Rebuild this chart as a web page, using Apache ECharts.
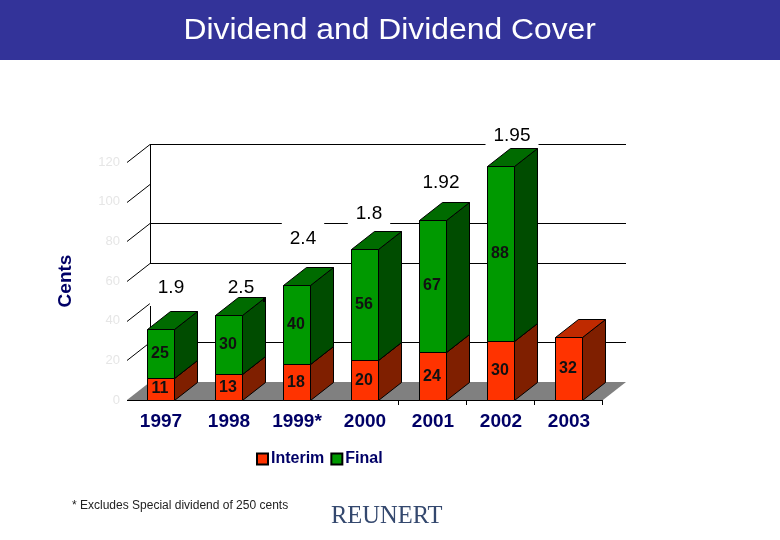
<!DOCTYPE html>
<html><head><meta charset="utf-8">
<style>html,body{margin:0;padding:0;background:#fff}#c{width:780px;height:540px}</style>
<script src="https://cdn.jsdelivr.net/npm/echarts@6/dist/echarts.min.js"></script>
</head><body><div id="c"></div>
<script>
var categories=['1997','1998','1999*','2000','2001','2002','2003'];
var interim=[11,13,18,20,24,30,32];
var finalDiv=[25,30,40,56,67,88,null];
var cover=['1.9','2.5','2.4','1.8','1.92','1.95',null];
var yTicks=[0,20,40,60,80,100,120];
var wallLines=[20,60,80,120];

// drawing style (not data)
var DX=23, DY=18, BAR=27;
var coverNudgeX=[10,12,6,4,8,11,0], coverLift=[41,27,46,36,37,30,0];
var lineStyle={stroke:'#000',lineWidth:1,fill:null};

function box(api,i,lo,hi,front,top,side){
  var p0=api.coord([i,lo]),p1=api.coord([i,hi]);
  var l=Math.floor(p0[0]-BAR/2)+.5,r=l+BAR,b=Math.round(p0[1])+.5,t=Math.round(p1[1])+.5;
  var bs={stroke:'#000',lineWidth:1};
  return [
   {type:'polygon',shape:{points:[[r,b],[r+DX,b-DY],[r+DX,t-DY],[r,t]]},style:Object.assign({fill:side},bs)},
   {type:'polygon',shape:{points:[[l,t],[l+DX,t-DY],[r+DX,t-DY],[r,t]]},style:Object.assign({fill:top},bs)},
   {type:'rect',shape:{x:l,y:t,width:BAR,height:b-t},style:Object.assign({fill:front},bs)}
  ];
}
function barLabel(api,i,lo,hi,v){
  var p=api.coord([i,(lo+hi)/2]);
  return {type:'text',z2:10,style:{x:p[0]-1,y:p[1],text:String(v),align:'center',verticalAlign:'middle',
    font:'bold 16px "Liberation Sans",Arial,sans-serif',fill:'#111'}};
}
function renderInterim(params,api){
  var i=params.dataIndex,v=interim[i];
  return {type:'group',children:box(api,i,0,v,'#FF3300','#BF2A00','#7F1F00').concat([barLabel(api,i,0,v,v)])};
}
function renderFinal(params,api){
  var i=params.dataIndex,v=finalDiv[i];
  if(v==null) return {type:'group',children:[]};
  var lo=interim[i],hi=lo+v;
  return {type:'group',children:box(api,i,lo,hi,'#009900','#006B00','#004C00').concat([barLabel(api,i,lo,hi,v)])};
}
function renderCover(params,api){
  var i=params.dataIndex;
  if(cover[i]==null) return {type:'group',children:[]};
  var p=api.coord([i,interim[i]+finalDiv[i]]);
  return {type:'text',style:{x:p[0]+coverNudgeX[i],y:p[1]-coverLift[i],text:cover[i],align:'center',verticalAlign:'middle',
    font:'19px "Liberation Sans",Arial,sans-serif',fill:'#000',backgroundColor:'#fff',padding:[9,8]}};
}
function renderWalls(params,api){
  var c=params.coordSys,L=c.x,R=c.x+c.width,ch=[];
  var y0=api.coord([0,0])[1];
  ch.push({type:'polygon',shape:{points:[[L,y0],[L+DX,y0-DY],[R+DX,y0-DY],[R,y0]]},style:{fill:'#808080'}});
  yTicks.forEach(function(v){
    if(v===0)return;
    var y=Math.round(api.coord([0,v])[1])+.5;
    ch.push({type:'line',shape:{x1:L,y1:y,x2:L+DX,y2:y-DY},style:lineStyle});
  });
  wallLines.forEach(function(v){
    var y=Math.round(api.coord([0,v])[1])+.5;
    ch.push({type:'line',shape:{x1:L+DX,y1:y-DY,x2:R+DX,y2:y-DY},style:lineStyle});
  });
  var X=L+DX+.5;
  ch.push({type:'line',shape:{x1:X,y1:api.coord([0,120])[1]-DY,x2:X,y2:api.coord([0,60])[1]-DY},style:lineStyle});
  ch.push({type:'line',shape:{x1:X,y1:api.coord([0,40])[1]-DY,x2:X,y2:y0-DY},style:lineStyle});
  ch.push({type:'line',shape:{x1:L,y1:y0+.5,x2:R,y2:y0+.5},style:lineStyle});
  [3,4,5,6].forEach(function(i){
    var x=Math.round(api.coord([i,0])[0]+c.width/categories.length/2)-.5;
    ch.push({type:'line',shape:{x1:x,y1:y0,x2:x,y2:y0+5},style:lineStyle});
  });
  return {type:'group',children:ch};
}
var chart=echarts.init(document.getElementById('c'),null,{renderer:'canvas'});
chart.setOption({
  animation:false,backgroundColor:'#fff',
  graphic:[
    {type:'rect',z:-1,shape:{x:0,y:0,width:780,height:60},style:{fill:'#333399'}},
    {type:'rect',z:5,shape:{x:263,y:297,width:2.5,height:5},style:{fill:'#000'}},
    {type:'text',x:183.5,y:16,scaleX:1.098,z:6,style:{text:'Dividend and Dividend Cover',font:'29px "Liberation Sans",Arial,sans-serif',fill:'#fff',textShadowColor:'#1a1a4d',textShadowOffsetX:1.5,textShadowOffsetY:1.5,textShadowBlur:0}},
    {type:'text',left:72,top:500,style:{text:'* Excludes Special dividend of 250 cents',font:'12px "Liberation Sans",Arial,sans-serif',fill:'#222'}},
    {type:'text',left:331,top:504,style:{text:'REUNERT',font:'24.5px "Liberation Serif",serif',fill:'#34486e'}}
  ],
  legend:{left:251,top:446,icon:'rect',itemWidth:11,itemHeight:11,itemGap:6,selectedMode:false,
    data:['Interim','Final'],
    textStyle:{color:'#000066',fontFamily:'Liberation Sans',fontWeight:'bold',fontSize:16,padding:[0,0,0,-2]}},
  grid:{left:127,top:162,width:476,height:238,containLabel:false},
  xAxis:{type:'category',data:categories,axisLine:{show:false},axisTick:{show:false},
    axisLabel:{interval:0,margin:12,color:'#000066',fontFamily:'Liberation Sans',fontWeight:'bold',fontSize:19}},
  yAxis:{type:'value',min:0,max:120,interval:20,splitLine:{show:false},axisLine:{show:false},axisTick:{show:false},
    name:'Cents',nameLocation:'middle',nameRotate:90,nameGap:52,
    nameTextStyle:{color:'#000066',fontFamily:'Liberation Sans',fontWeight:'bold',fontSize:19},
    axisLabel:{margin:7,color:'#e6e6e6',fontFamily:'Liberation Sans',fontSize:13}},
  series:[
    {type:'custom',name:'walls',z:1,silent:true,renderItem:renderWalls,data:[[0,0]],encode:{x:0,y:1},legendHoverLink:false},
    {type:'custom',name:'Interim',z:3,renderItem:renderInterim,data:interim.map(function(v,i){return [i,v];}),encode:{x:0,y:1},
      itemStyle:{color:'#FF3300',borderColor:'#000',borderWidth:1}},
    {type:'custom',name:'Final',z:4,renderItem:renderFinal,data:finalDiv.map(function(v,i){return [i,v];}),encode:{x:0,y:1},
      itemStyle:{color:'#009900',borderColor:'#000',borderWidth:1}},
    {type:'custom',name:'cover',z:2,silent:true,renderItem:renderCover,data:cover.map(function(v,i){return [i,i];}),encode:{x:0}}
  ]
});
</script></body></html>
